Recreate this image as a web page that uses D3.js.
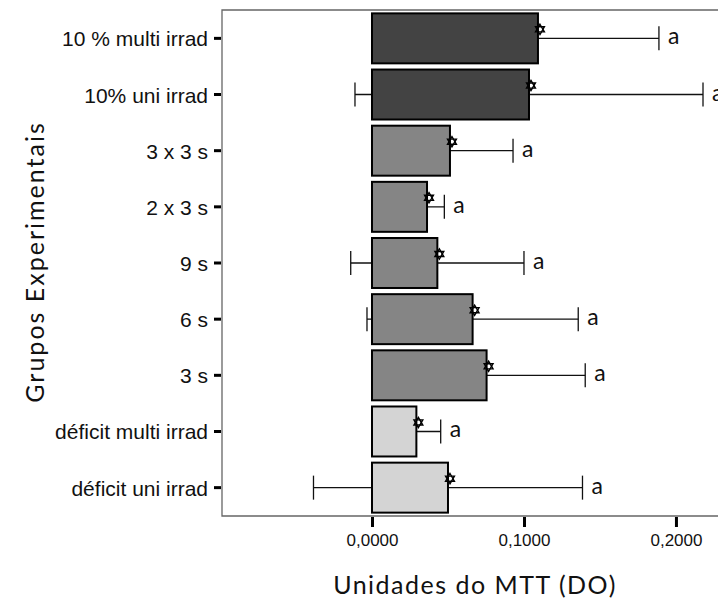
<!DOCTYPE html>
<html>
<head>
<meta charset="utf-8">
<script src="https://cdn.jsdelivr.net/npm/d3@7"></script>
<style>
  body { margin: 0; background: #fff; }
  svg { display: block; }
</style>
</head>
<body>
<div id="chart"></div>
<script>
// data
var groups = ["10 % multi irrad", "10% uni irrad", "3 x 3 s", "2 x 3 s", "9 s",
              "6 s", "3 s", "déficit multi irrad", "déficit uni irrad"];
var means = [0.1092, 0.1033, 0.0513, 0.0362, 0.0430, 0.0662, 0.0754, 0.0292, 0.0500];
var errors = [0.0796, 0.1145, 0.0415, 0.0114, 0.0570, 0.0695, 0.0649, 0.0160, 0.0885];
var shades = ["dark", "dark", "mid", "mid", "mid", "mid", "mid", "light", "light"];
var letters = ["a", "a", "a", "a", "a", "a", "a", "a", "a"];
var xTicks = [0, 0.1, 0.2];

var colors = {dark: "#434343", mid: "#858585", light: "#d4d4d4"};

var chart = {
    svgWidth: 718,
    svgHeight: 603,
    margin: {"top": 10, "bottom": 87, "left": 222, "right": 0},
};
chart.chartHeight = chart.svgHeight - (chart.margin.top + chart.margin.bottom);

var svg = d3.select("#chart").append("svg")
    .attr("width", chart.svgWidth)
    .attr("height", chart.svgHeight);

// 0 at x=372, 0.1 per 152px
var xScale = d3.scaleLinear()
    .domain([-0.0987, 0.2303])
    .range([chart.margin.left, chart.margin.left + 500]);

var yScale = d3.scaleBand()
    .domain(groups)
    .range([chart.margin.top, chart.margin.top + chart.chartHeight])
    .paddingInner(0.11)
    .paddingOuter(0.06);

var rows = groups.map(function(g, i) {
    return {group: g, mean: means[i], err: errors[i], shade: shades[i], letter: letters[i]};
});

var bottomY = chart.margin.top + chart.chartHeight;

// error bars first so the bars hide the part inside them
var eb = svg.append("g").attr("class", "errorbars")
    .selectAll("g").data(rows).enter().append("g");

eb.append("line")
    .attr("x1", d => xScale(d.mean - d.err))
    .attr("x2", d => xScale(d.mean + d.err))
    .attr("y1", d => yScale(d.group) + yScale.bandwidth() / 2)
    .attr("y2", d => yScale(d.group) + yScale.bandwidth() / 2)
    .attr("stroke", "#111").attr("stroke-width", 1.3);

eb.selectAll("line.cap")
    .data(d => [d.mean - d.err, d.mean + d.err].map(v => ({v: v, group: d.group})))
    .enter().append("line")
    .attr("class", "cap")
    .attr("x1", d => xScale(d.v))
    .attr("x2", d => xScale(d.v))
    .attr("y1", d => yScale(d.group) + yScale.bandwidth() / 2 - 12)
    .attr("y2", d => yScale(d.group) + yScale.bandwidth() / 2 + 12)
    .attr("stroke", "#111").attr("stroke-width", 1.3);

// bars
svg.append("g").attr("class", "bars")
    .selectAll("rect").data(rows).enter().append("rect")
    .attr("x", xScale(0))
    .attr("y", d => yScale(d.group))
    .attr("width", d => xScale(d.mean) - xScale(0))
    .attr("height", yScale.bandwidth())
    .attr("fill", d => colors[d.shade])
    .attr("stroke", "#000")
    .attr("stroke-width", 2);

// mean markers (small hexagram)
var tri = d3.symbol().type(d3.symbolTriangle).size(34);
var marks = svg.append("g").attr("class", "marks")
    .selectAll("g").data(rows).enter().append("g")
    .attr("transform", d => "translate(" + (xScale(d.mean) + 2) + ","
                                         + (yScale(d.group) + yScale.bandwidth() / 2 - 9) + ")");
marks.append("path").attr("d", tri)
    .attr("fill", "none").attr("stroke", "#000").attr("stroke-width", 1.4);
marks.append("path").attr("d", tri).attr("transform", "rotate(180)")
    .attr("fill", "none").attr("stroke", "#000").attr("stroke-width", 1.4);

// letters
svg.append("g").attr("class", "letters")
    .selectAll("text").data(rows).enter().append("text")
    .attr("x", d => xScale(d.mean + d.err) + 9)
    .attr("y", d => yScale(d.group) + yScale.bandwidth() / 2 + 6)
    .attr("font-family", "Lato, sans-serif")
    .attr("font-size", 23)
    .attr("fill", "#111")
    .text(d => d.letter);

// frame: left, top, bottom
var frame = svg.append("g").attr("class", "frame")
    .attr("stroke", "#666").attr("stroke-width", 1.3).attr("fill", "none");
frame.append("path")
    .attr("d", "M" + chart.svgWidth + "," + chart.margin.top
              + "H" + chart.margin.left
              + "V" + bottomY
              + "H" + chart.svgWidth);

// axes
var yAxis = d3.axisLeft(yScale).tickSizeInner(7).tickSizeOuter(0).tickPadding(6);
var gy = svg.append("g")
    .attr("class", "yAxis")
    .attr("transform", "translate(" + (chart.margin.left - 1) + ",0)")
    .call(yAxis);
gy.select(".domain").remove();
gy.selectAll(".tick line").attr("stroke", "#000").attr("stroke-width", 3);
gy.selectAll(".tick text")
    .attr("font-family", "'Liberation Sans', Arial, sans-serif")
    .attr("font-size", 21)
    .attr("dy", "0.38em")
    .attr("fill", "#111");

var xAxis = d3.axisBottom(xScale).tickValues(xTicks).tickSizeInner(10).tickSizeOuter(0)
    .tickPadding(7)
    .tickFormat(d => d3.format(".4f")(d).replace(".", ","));
var gx = svg.append("g")
    .attr("class", "xAxis")
    .attr("transform", "translate(0," + (bottomY + 1) + ")")
    .call(xAxis);
gx.select(".domain").remove();
gx.selectAll(".tick line").attr("stroke", "#000").attr("stroke-width", 3);
gx.selectAll(".tick text")
    .attr("font-family", "'Liberation Sans', Arial, sans-serif")
    .attr("font-size", 17)
    .attr("fill", "#111");

// titles
svg.append("text")
    .attr("x", 475).attr("y", 594)
    .attr("text-anchor", "middle")
    .attr("font-family", "Lato, sans-serif")
    .attr("font-size", 25)
    .attr("letter-spacing", 1.5)
    .attr("fill", "#111")
    .text("Unidades do MTT (DO)");

svg.append("text")
    .attr("transform", "translate(44,262) rotate(-90)")
    .attr("text-anchor", "middle")
    .attr("font-family", "Lato, sans-serif")
    .attr("font-size", 25)
    .attr("letter-spacing", 2)
    .attr("fill", "#111")
    .text("Grupos Experimentais");
</script>
</body>
</html>
